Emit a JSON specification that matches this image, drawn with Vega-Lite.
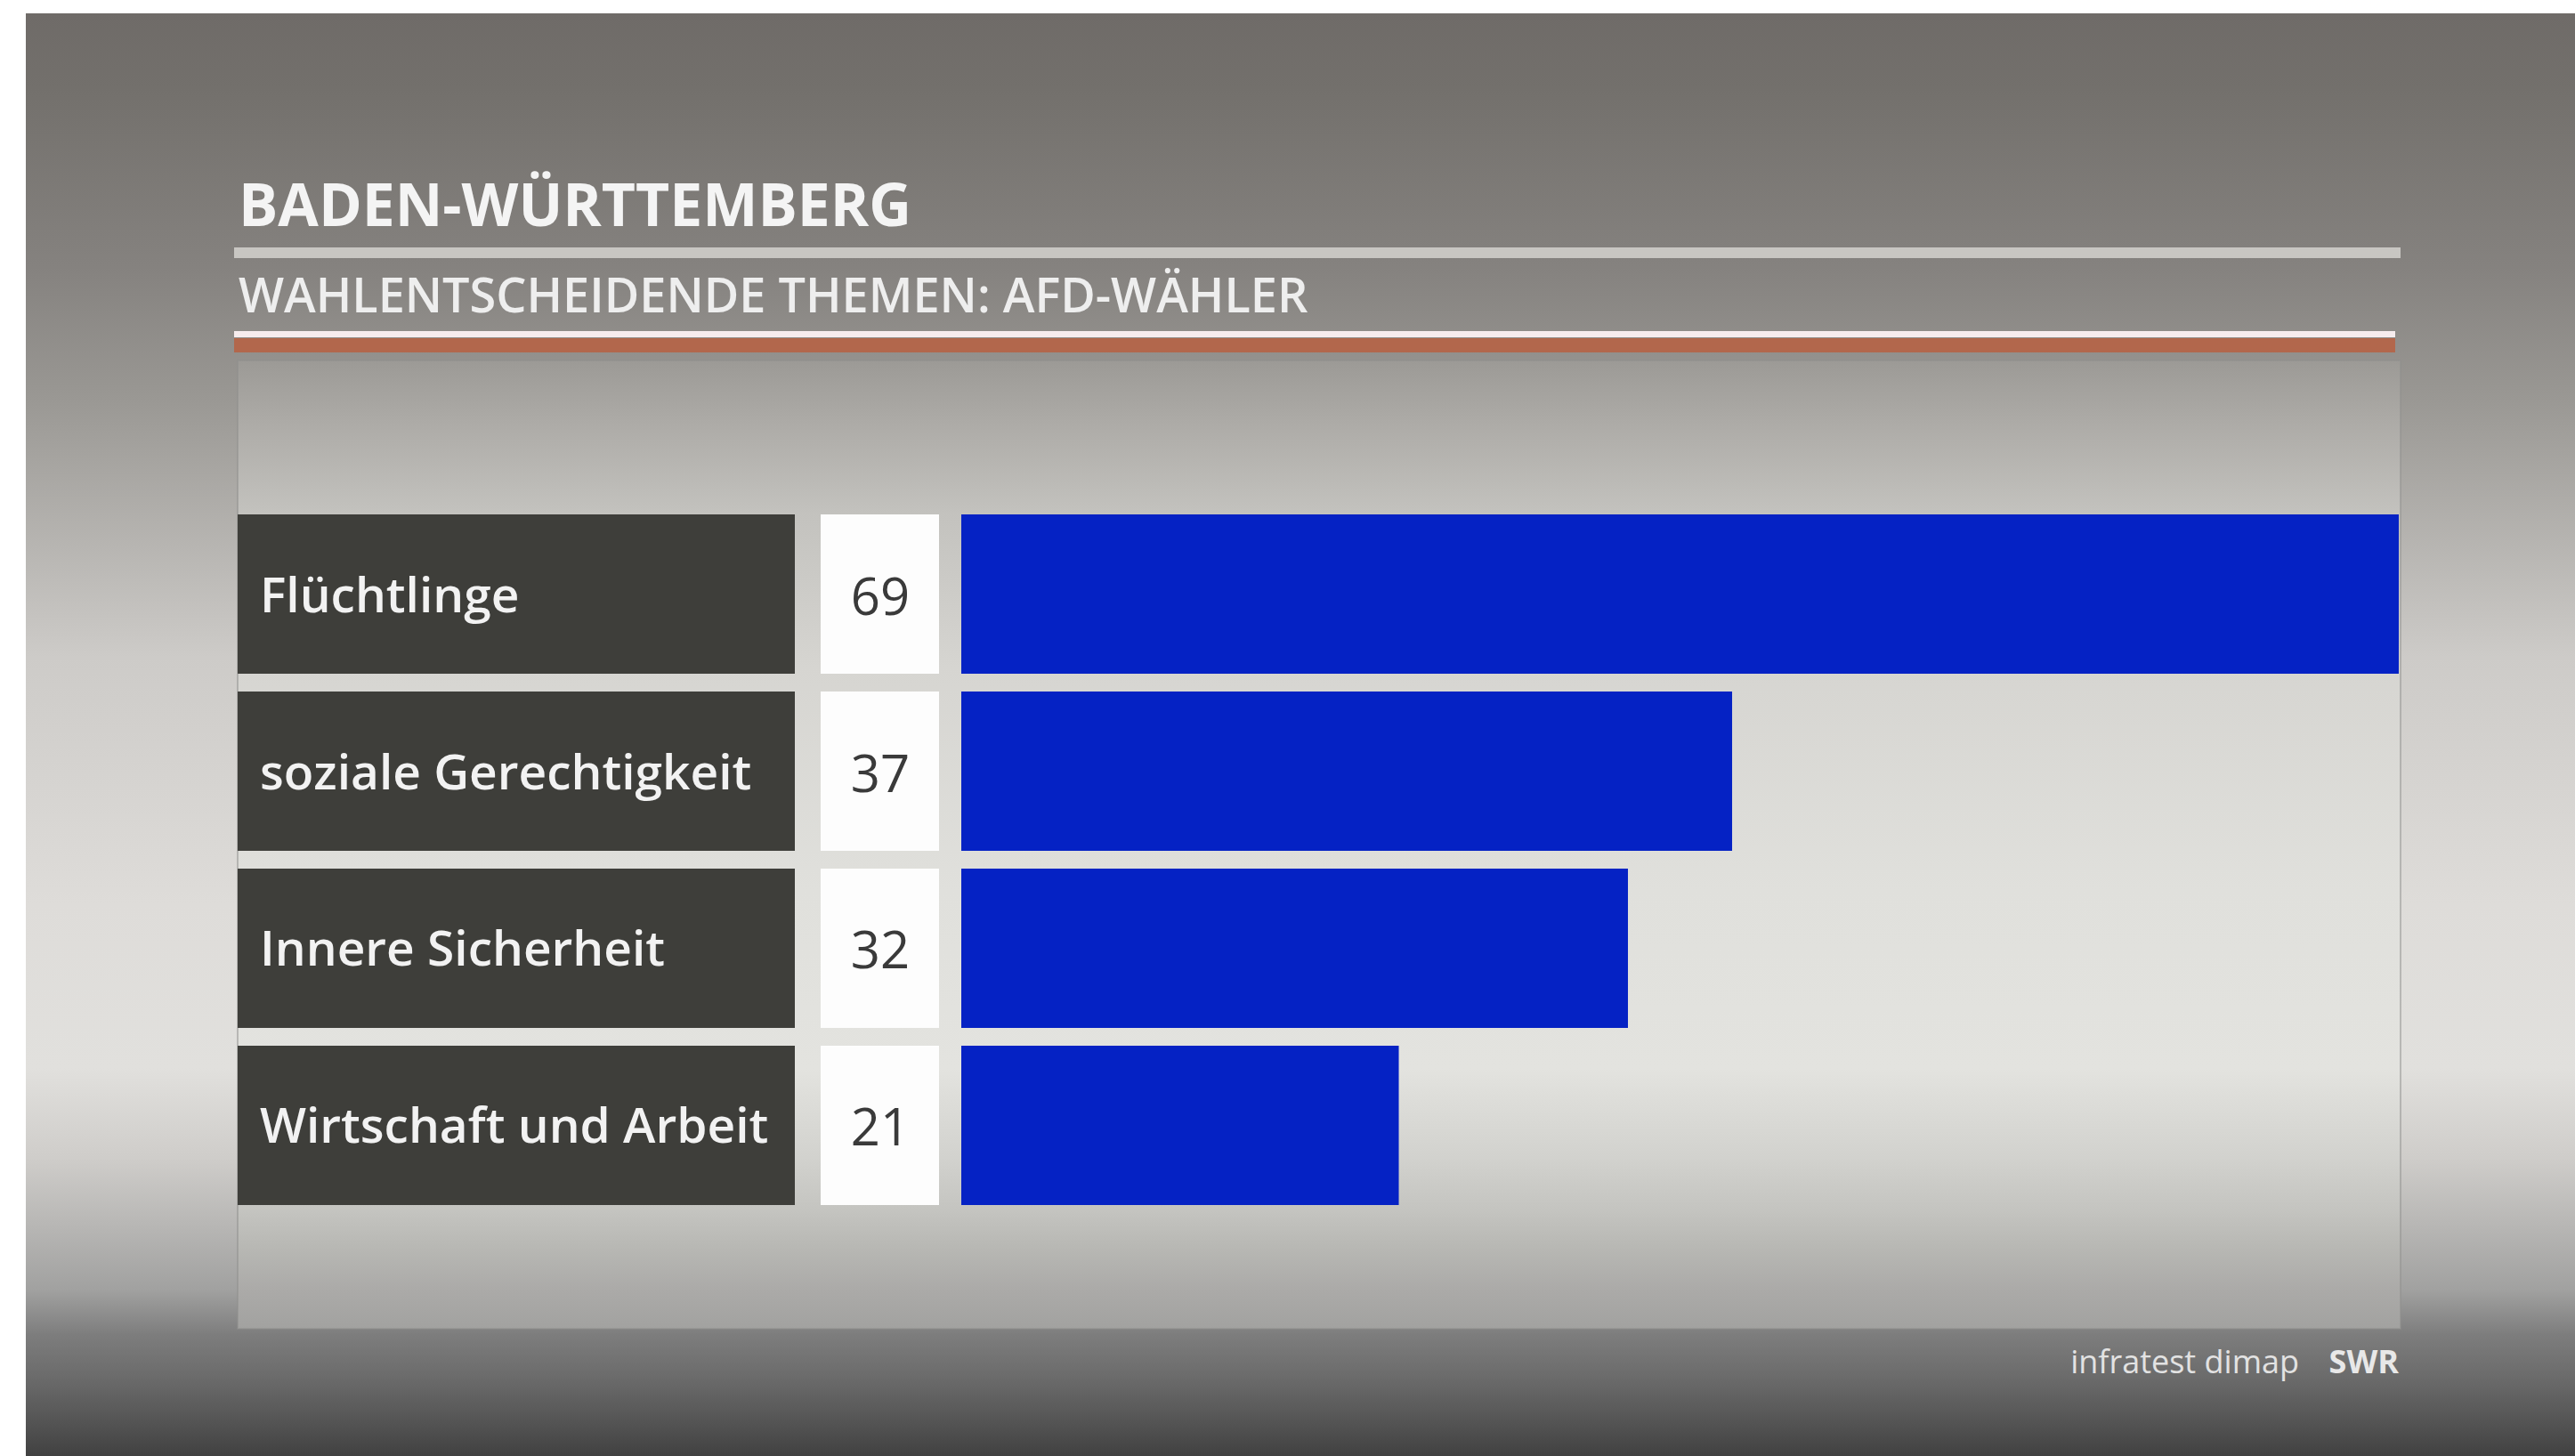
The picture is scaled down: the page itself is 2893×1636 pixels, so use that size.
{
  "$schema": "https://vega.github.io/schema/vega-lite/v6.json",
  "width": 2864,
  "height": 1621,
  "autosize": {"type": "none"},
  "padding": {"left": 29, "top": 15, "right": 0, "bottom": 0},
  "background": "#ffffff",
  "config": {"view": {"stroke": null}},
  "title": {
    "text": "BADEN-WÜRTTEMBERG",
    "subtitle": "WAHLENTSCHEIDENDE THEMEN: AFD-WÄHLER",
    "anchor": "start",
    "frame": "group",
    "orient": "top",
    "offset": -348,
    "dx": 239,
    "font": "Open Sans",
    "fontSize": 66,
    "fontWeight": 700,
    "color": "#f4f4f4",
    "subtitleFont": "Open Sans",
    "subtitleFontSize": 54,
    "subtitleFontWeight": 600,
    "subtitleColor": "#eeeeee",
    "subtitlePadding": 40
  },
  "data": {
    "values": [
      {"topic": "Flüchtlinge", "value": 69},
      {"topic": "soziale Gerechtigkeit", "value": 37},
      {"topic": "Innere Sicherheit", "value": 32},
      {"topic": "Wirtschaft und Arbeit", "value": 21}
    ]
  },
  "layer": [
    {
      "data": {"values": [{}]},
      "mark": {
        "type": "rect",
        "x": 0, "x2": {"expr": "width"}, "y": 0, "y2": {"expr": "height"},
        "fill": {
          "gradient": "linear", "x1": 0, "y1": 0, "x2": 0, "y2": 1,
          "stops": [
            {"offset": 0, "color": "#6f6b68"},
            {"offset": 0.052, "color": "#73706c"},
            {"offset": 0.176, "color": "#85827f"},
            {"offset": 0.268, "color": "#9a9894"},
            {"offset": 0.446, "color": "#cdcbc8"},
            {"offset": 0.617, "color": "#dedcd9"},
            {"offset": 0.731, "color": "#e1e0dd"},
            {"offset": 0.793, "color": "#cfcdca"},
            {"offset": 0.885, "color": "#a1a1a0"},
            {"offset": 0.916, "color": "#7d7d7d"},
            {"offset": 0.947, "color": "#6a6a6a"},
            {"offset": 0.978, "color": "#535353"},
            {"offset": 1, "color": "#414141"}
          ]
        }
      },
      "encoding": {}
    },
    {
      "data": {"values": [{}]},
      "mark": {
        "type": "rect",
        "x": 238, "x2": 2668, "y": 390, "y2": 1478,
        "stroke": "#8e8e8c", "strokeWidth": 2, "strokeOpacity": 0.5,
        "fill": {
          "gradient": "linear", "x1": 0, "y1": 0, "x2": 0, "y2": 1,
          "stops": [
            {"offset": 0, "color": "#9c9a96"},
            {"offset": 0.069, "color": "#aeaca8"},
            {"offset": 0.157, "color": "#c3c2be"},
            {"offset": 0.317, "color": "#d6d5d1"},
            {"offset": 0.547, "color": "#e0e0dc"},
            {"offset": 0.731, "color": "#e3e3df"},
            {"offset": 0.823, "color": "#d2d2ce"},
            {"offset": 0.878, "color": "#c4c4c0"},
            {"offset": 0.915, "color": "#b8b8b4"},
            {"offset": 0.96, "color": "#abaaa8"},
            {"offset": 1, "color": "#a2a2a0"}
          ]
        }
      },
      "encoding": {}
    },
    {
      "data": {"values": [{}]},
      "mark": {"type": "rect", "x": 234, "x2": 2668, "y": 263, "y2": 275, "fill": "#c8c6c2"},
      "encoding": {}
    },
    {
      "data": {"values": [{}]},
      "mark": {"type": "rect", "x": 234, "x2": 2662, "y": 357, "y2": 364, "fill": "#f6ecee"},
      "encoding": {}
    },
    {
      "data": {"values": [{}]},
      "mark": {"type": "rect", "x": 234, "x2": 2662, "y": 365, "y2": 381, "fill": "#b2674c"},
      "encoding": {}
    },
    {
      "mark": {"type": "rect", "fill": "#3e3e3a"},
      "encoding": {
        "y": {"field": "topic", "type": "nominal", "sort": null, "axis": null,
              "scale": {"range": [563, 1339], "paddingInner": 0.1, "paddingOuter": 0}},
        "x": {"value": 238},
        "x2": {"value": 864}
      }
    },
    {
      "mark": {"type": "rect", "fill": "#fdfdfd"},
      "encoding": {
        "y": {"field": "topic", "type": "nominal", "sort": null, "axis": null},
        "x": {"value": 893},
        "x2": {"value": 1026}
      }
    },
    {
      "mark": {"type": "bar", "fill": "#0522c4"},
      "encoding": {
        "y": {"field": "topic", "type": "nominal", "sort": null, "axis": null},
        "x": {"field": "value", "type": "quantitative", "axis": null,
              "scale": {"domain": [0, 69], "range": [1051, 2666]}}
      }
    },
    {
      "mark": {"type": "text", "align": "left", "baseline": "middle", "dy": 3,
               "font": "Open Sans", "fontSize": 55, "fontWeight": 600, "fill": "#f2f2f2"},
      "encoding": {
        "y": {"field": "topic", "type": "nominal", "sort": null, "axis": null},
        "x": {"value": 263},
        "text": {"field": "topic"}
      }
    },
    {
      "mark": {"type": "text", "align": "center", "baseline": "middle", "dy": 6,
               "font": "Open Sans", "fontSize": 58, "fontWeight": 500, "fill": "#3a3a3a"},
      "encoding": {
        "y": {"field": "topic", "type": "nominal", "sort": null, "axis": null},
        "x": {"value": 960},
        "text": {"field": "value", "type": "quantitative"}
      }
    },
    {
      "data": {"values": [{"t": "infratest dimap"}]},
      "mark": {"type": "text", "align": "right", "baseline": "alphabetic",
               "x": 2554, "y": 1528,
               "font": "Open Sans", "fontSize": 36, "fontWeight": 400, "fill": "#e2e2e2"},
      "encoding": {"text": {"field": "t"}}
    },
    {
      "data": {"values": [{"t": "SWR"}]},
      "mark": {"type": "text", "align": "right", "baseline": "alphabetic",
               "x": 2666, "y": 1528,
               "font": "Open Sans", "fontSize": 36, "fontWeight": 700, "fill": "#e8e8e8"},
      "encoding": {"text": {"field": "t"}}
    }
  ]
}
